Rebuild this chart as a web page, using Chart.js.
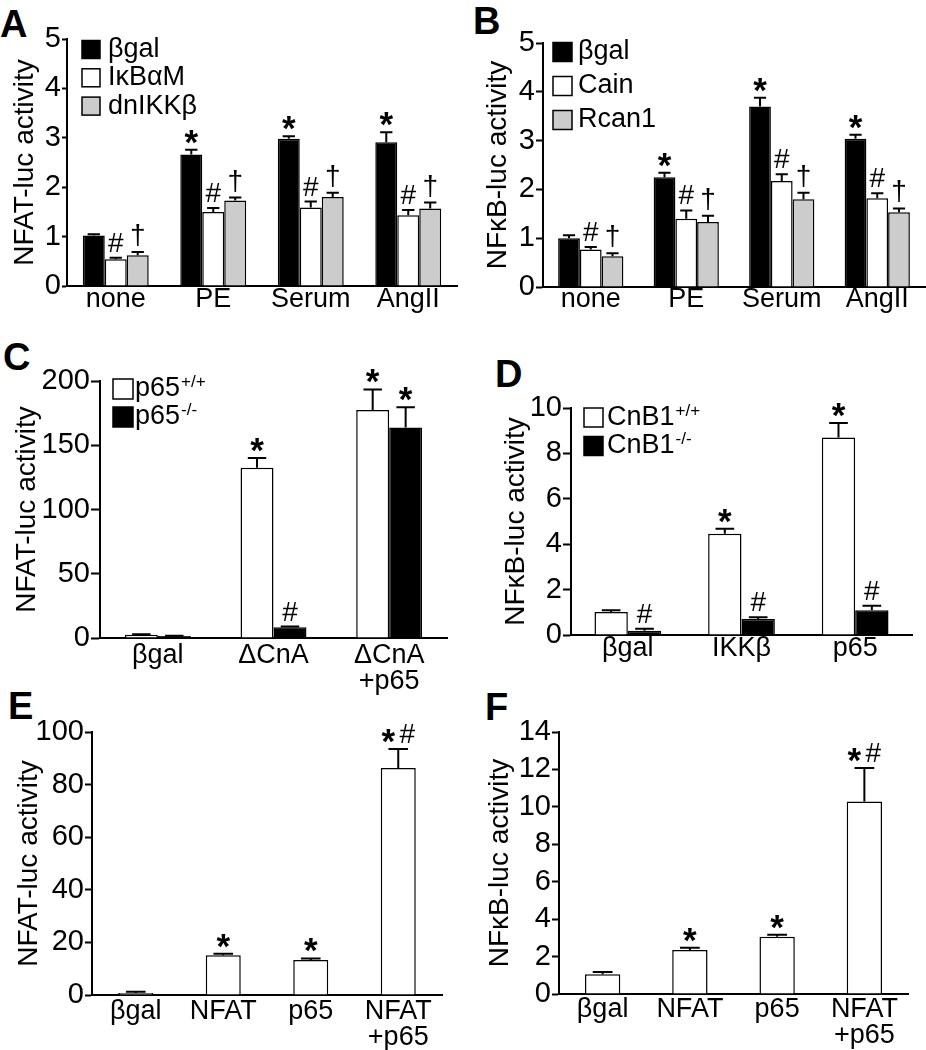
<!DOCTYPE html>
<html>
<head>
<meta charset="utf-8">
<script src="https://cdn.jsdelivr.net/npm/chart.js@4.4.1/dist/chart.umd.min.js"></script>
<style>
  body { margin: 0; background: #fff; width: 926px; height: 1050px; position: relative; overflow: hidden;
         font-family: 'Liberation Sans', Arial, sans-serif; }
  .tag { position: absolute; font-weight: bold; font-size: 38px; line-height: 1; color: #000; }
</style>
</head>
<body>
<div class="tag" style="left:0px;top:5px">A</div>
<div class="tag" style="left:473px;top:2px">B</div>
<div class="tag" style="left:3px;top:338px">C</div>
<div class="tag" style="left:495px;top:355px">D</div>
<div class="tag" style="left:8px;top:687px">E</div>
<div class="tag" style="left:485px;top:688px">F</div>

<script>
// ---- data -------------------------------------------------------
const stimuli = ['none', 'PE', 'Serum', 'AngII'];

// A: NFAT-luc
const aBgal = [1.02, 2.66, 2.98, 2.91];
const aBgalErr = [0.03, 0.1, 0.05, 0.2];
const aIkba = [0.54, 1.5, 1.59, 1.43];
const aIkbaErr = [0.03, 0.08, 0.12, 0.11];
const aDnIkk = [0.62, 1.73, 1.8, 1.57];
const aDnIkkErr = [0.07, 0.06, 0.09, 0.12];

// B: NFkB-luc
const bBgal = [1.0, 2.25, 3.7, 3.04];
const bBgalErr = [0.06, 0.09, 0.18, 0.08];
const bCain = [0.77, 1.4, 2.17, 1.82];
const bCainErr = [0.05, 0.17, 0.14, 0.1];
const bRcan = [0.63, 1.33, 1.8, 1.53];
const bRcanErr = [0.06, 0.13, 0.13, 0.08];

// C: NFAT-luc in p65 cells
const cLabels = ['βgal', 'ΔCnA', ['ΔCnA', '+p65']];
const cWt = [2.5, 132.5, 177.4];
const cWtErr = [0.5, 7.5, 16];
const cKo = [1.5, 8.3, 163.9];
const cKoErr = [0.3, 0.6, 15.6];

// D: NFkB-luc in CnB1 cells
const dLabels = ['βgal', 'IKKβ', 'p65'];
const dWt = [1.01, 4.46, 8.7];
const dWtErr = [0.08, 0.22, 0.64];
const dKo = [0.19, 0.7, 1.09];
const dKoErr = [0.08, 0.08, 0.2];

// E, F: co-transfection
const efLabels = ['βgal', 'NFAT', 'p65', ['NFAT', '+p65']];
const eVals = [0.8, 15.1, 13.3, 86.3];
const eErr = [0.4, 0.6, 0.6, 7.2];
const fVals = [1.05, 2.35, 3.06, 10.28];
const fErr = [0.12, 0.12, 0.11, 1.8];

const BLACK = '#000000';
const WHITE = '#ffffff';
const GREY = '#cccccc';
const FONT = "'Liberation Sans', Arial, sans-serif";

Chart.defaults.font.family = FONT;
Chart.defaults.font.size = 27;
Chart.defaults.color = '#000';

// ---- plugins ----------------------------------------------------
function drawMark(ctx, mark, x, bottom) {
  const parts = mark.length > 1 ? [[mark[0], -10], [mark[1], 9]] : [[mark, 0]];
  parts.forEach(([sym, dx]) => {
    ctx.font = sym === '*' ? `bold 35px ${FONT}` : `28px ${FONT}`;
    ctx.textAlign = 'center';
    ctx.textBaseline = 'alphabetic';
    ctx.fillStyle = '#000';
    const m = ctx.measureText(sym);
    ctx.fillText(sym, x + dx, bottom - m.actualBoundingBoxDescent);
  });
}

const errorBars = {
  id: 'errorBars',
  afterDatasetsDraw(chart) {
    const { ctx } = chart;
    const yScale = chart.scales.y;
    chart.data.datasets.forEach((ds, i) => {
      chart.getDatasetMeta(i).data.forEach((bar, j) => {
        const top = yScale.getPixelForValue(ds.data[j] + ds.errors[j]);
        const half = bar.width * 0.28;
        ctx.save();
        ctx.strokeStyle = '#000';
        ctx.lineWidth = 2;
        ctx.beginPath();
        ctx.moveTo(bar.x, bar.y);
        ctx.lineTo(bar.x, top);
        ctx.moveTo(bar.x - half, top);
        ctx.lineTo(bar.x + half, top);
        ctx.stroke();
        if (ds.marks && ds.marks[j]) drawMark(ctx, ds.marks[j], bar.x, top - 6);
        ctx.restore();
      });
    });
  },
};

const boxLegend = {
  id: 'boxLegend',
  afterDraw(chart, args, opts) {
    const { ctx } = chart;
    chart.data.datasets.forEach((ds, i) => {
      const cy = opts.y + i * opts.dy;
      ctx.save();
      ctx.fillStyle = ds.backgroundColor;
      ctx.fillRect(opts.x, cy - opts.box / 2, opts.box, opts.box);
      ctx.strokeStyle = '#000';
      ctx.lineWidth = 1.5;
      ctx.strokeRect(opts.x, cy - opts.box / 2, opts.box, opts.box);
      ctx.fillStyle = '#000';
      ctx.font = `27px ${FONT}`;
      ctx.textAlign = 'left';
      ctx.textBaseline = 'middle';
      ctx.fillText(ds.label, opts.tx, cy);
      if (ds.sup) {
        const w = ctx.measureText(ds.label).width;
        ctx.font = `17px ${FONT}`;
        ctx.textBaseline = 'alphabetic';
        ctx.fillText(ds.sup, opts.tx + w + 1, cy - 2);
      }
      ctx.restore();
    });
  },
};

// ---- panel builder ---------------------------------------------
function makePanel(p) {
  const canvas = document.createElement('canvas');
  canvas.width = p.w;
  canvas.height = p.h;
  canvas.style.cssText = `position:absolute;left:${p.left}px;top:${p.top}px;width:${p.w}px;height:${p.h}px`;
  document.body.appendChild(canvas);

  return new Chart(canvas, {
    type: 'bar',
    data: {
      labels: p.labels,
      datasets: p.datasets.map(d => ({
        ...d,
        borderColor: '#000',
        borderWidth: 1.5,
        categoryPercentage: p.cat,
        barPercentage: 1,
      })),
    },
    options: {
      responsive: false,
      animation: false,
      devicePixelRatio: 1,
      layout: { padding: { top: p.padTop, right: p.padRight, left: 0, bottom: 0 } },
      plugins: {
        legend: { display: false },
        tooltip: { enabled: false },
        boxLegend: p.legend || false,
      },
      scales: {
        x: {
          grid: { display: false, drawTicks: false },
          border: { display: true, color: '#000', width: 2 },
          ticks: { color: '#000', padding: p.xPad, maxRotation: 0, autoSkip: false,
                   font: { size: 27, lineHeight: 0.95 } },
          afterFit: s => { s.height = p.xH; },
        },
        y: {
          min: 0,
          max: p.max,
          ticks: { stepSize: p.step, padding: 1, autoSkip: false, color: '#000', font: { size: 29 } },
          grid: { drawOnChartArea: false, drawTicks: true, tickLength: p.tick, tickWidth: 2, color: '#000' },
          border: { color: '#000', width: 2 },
          title: { display: true, text: p.title, color: '#000',
                   font: { size: 28, lineHeight: 1.2 }, padding: { top: p.titlePad, bottom: 0 } },
          afterFit: s => { s.width = p.yW; },
        },
      },
    },
    plugins: [errorBars, boxLegend],
  });
}

makePanel({
  left: 0, top: 0, w: 460, h: 330, yW: 67, padTop: 39, padRight: 3, xH: 44, xPad: 1, tick: 5,
  max: 5, step: 1, cat: 0.676, title: 'NFAT-luc activity', titlePad: 8.2,
  labels: stimuli,
  legend: { x: 82, y: 49.5, dy: 28.3, box: 18, tx: 108 },
  datasets: [
    { label: 'βgal', data: aBgal, errors: aBgalErr, backgroundColor: BLACK, marks: ['', '*', '*', '*'] },
    { label: 'IκBαM', data: aIkba, errors: aIkbaErr, backgroundColor: WHITE, marks: ['#', '#', '#', '#'] },
    { label: 'dnIKKβ', data: aDnIkk, errors: aDnIkkErr, backgroundColor: GREY, marks: ['†', '†', '†', '†'] },
  ],
});

makePanel({
  left: 460, top: 0, w: 466, h: 330, yW: 83, padTop: 43, padRight: 1, xH: 43, xPad: 0, tick: 7,
  max: 5, step: 1, cat: 0.683, title: 'NFκB-luc activity', titlePad: 21.7,
  labels: stimuli,
  legend: { x: 93, y: 52, dy: 34, box: 19, tx: 118 },
  datasets: [
    { label: 'βgal', data: bBgal, errors: bBgalErr, backgroundColor: BLACK, marks: ['', '*', '*', '*'] },
    { label: 'Cain', data: bCain, errors: bCainErr, backgroundColor: WHITE, marks: ['#', '#', '#', '#'] },
    { label: 'Rcan1', data: bRcan, errors: bRcanErr, backgroundColor: GREY, marks: ['†', '†', '†', '†'] },
  ],
});

makePanel({
  left: 0, top: 330, w: 460, h: 370, yW: 100, padTop: 51, padRight: 13, xH: 62, xPad: 5, tick: 9,
  max: 200, step: 50, cat: 0.57, title: 'NFAT-luc activity', titlePad: 10.2,
  labels: cLabels,
  legend: { x: 113, y: 59, dy: 28, box: 20, tx: 135 },
  datasets: [
    { label: 'p65', sup: '+/+', data: cWt, errors: cWtErr, backgroundColor: WHITE, marks: ['', '*', '*'] },
    { label: 'p65', sup: '-/-', data: cKo, errors: cKoErr, backgroundColor: BLACK, marks: ['', '#', '*'] },
  ],
});

makePanel({
  left: 460, top: 330, w: 466, h: 370, yW: 111, padTop: 78, padRight: 14, xH: 65, xPad: 1, tick: 8,
  max: 10, step: 2, cat: 0.587, title: 'NFκB-luc activity', titlePad: 39.7,
  labels: dLabels,
  legend: { x: 124, y: 87.5, dy: 28.5, box: 19, tx: 147 },
  datasets: [
    { label: 'CnB1', sup: '+/+', data: dWt, errors: dWtErr, backgroundColor: WHITE, marks: ['', '*', '*'] },
    { label: 'CnB1', sup: '-/-', data: dKo, errors: dKoErr, backgroundColor: BLACK, marks: ['#', '#', '#'] },
  ],
});

makePanel({
  left: 0, top: 700, w: 460, h: 350, yW: 92, padTop: 32, padRight: 18, xH: 55, xPad: 4, tick: 7,
  max: 100, step: 20, cat: 0.4, title: 'NFAT-luc activity', titlePad: 12.2,
  labels: efLabels,
  datasets: [
    { label: 'NFAT-luc', data: eVals, errors: eErr, backgroundColor: WHITE, marks: ['', '*', '*', '*#'] },
  ],
});

makePanel({
  left: 460, top: 700, w: 466, h: 350, yW: 99, padTop: 32, padRight: 18, xH: 56, xPad: 3, tick: 7,
  max: 14, step: 2, cat: 0.405, title: 'NFκB-luc activity', titlePad: 23.2,
  labels: efLabels,
  datasets: [
    { label: 'NFκB-luc', data: fVals, errors: fErr, backgroundColor: WHITE, marks: ['', '*', '*', '*#'] },
  ],
});
</script>
</body>
</html>
